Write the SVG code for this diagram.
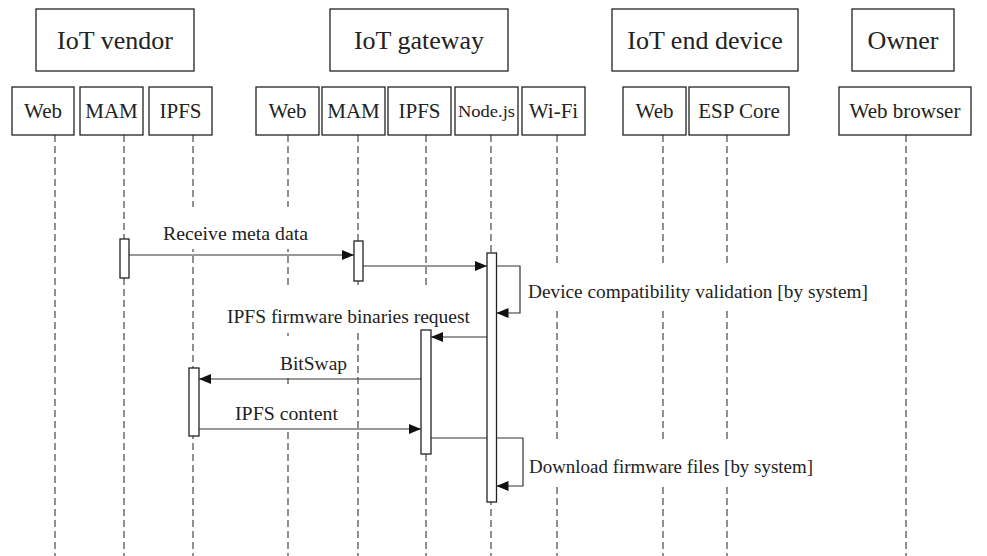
<svg xmlns="http://www.w3.org/2000/svg" width="987" height="556" viewBox="0 0 987 556">
<defs>
<style>
.box{fill:#fff;stroke:#222;stroke-width:1.3}
.life{stroke:#555;stroke-width:1.3;stroke-dasharray:7 4;fill:none}
.act{fill:#fff;stroke:#222;stroke-width:1.3}
.msg{stroke:#333;stroke-width:1.2;fill:none}
.bg{fill:#fff;stroke:none}
text{font-family:"Liberation Serif","DejaVu Serif",serif;fill:#222}
.h{font-size:26px;text-anchor:middle}
.s{font-size:21px;text-anchor:middle}
.l{font-size:19.5px}
</style>
<marker id="ah" viewBox="0 0 12 10" refX="12" refY="5" markerWidth="12" markerHeight="10" markerUnits="userSpaceOnUse" orient="auto">
<path d="M0,0 L12,5 L0,10 z" fill="#111"/>
</marker>
</defs>
<rect width="987" height="556" fill="#fff"/>

<g id="lifelines">
<line class="life" x1="55" y1="135" x2="55" y2="556"/>
<line class="life" x1="124" y1="135" x2="124" y2="556"/>
<line class="life" x1="193" y1="135" x2="193" y2="556"/>
<line class="life" x1="288" y1="135" x2="288" y2="556"/>
<line class="life" x1="358" y1="135" x2="358" y2="556"/>
<line class="life" x1="426" y1="135" x2="426" y2="556"/>
<line class="life" x1="491" y1="135" x2="491" y2="556"/>
<line class="life" x1="557" y1="135" x2="557" y2="556"/>
<line class="life" x1="663" y1="135" x2="663" y2="556"/>
<line class="life" x1="727" y1="135" x2="727" y2="556"/>
<line class="life" x1="906" y1="135" x2="906" y2="556"/>
</g>

<g id="label-backgrounds">
<rect class="bg" x="150" y="207" width="170" height="42"/>
<rect class="bg" x="215" y="289" width="265" height="40"/>
<rect class="bg" x="270" y="336" width="80" height="42"/>
<rect class="bg" x="225" y="387" width="120" height="41"/>
<rect class="bg" x="522" y="263" width="355" height="45"/>
<rect class="bg" x="526" y="439" width="295" height="46"/>
</g>

<g id="iot-vendor">
<rect class="box" x="36" y="9" width="158" height="62"/>
<text class="h" x="115" y="49">IoT vendor</text>
</g>
<g id="vendor-web">
<rect class="box" x="12" y="87" width="62" height="48"/>
<text class="s" x="43" y="118">Web</text>
</g>
<g id="vendor-mam">
<rect class="box" x="80" y="87" width="63" height="48"/>
<text class="s" x="111.5" y="118">MAM</text>
<rect class="act" x="120" y="239" width="9" height="39"/>
</g>
<g id="vendor-ipfs">
<rect class="box" x="149" y="87" width="63" height="48"/>
<text class="s" x="180.5" y="118">IPFS</text>
<rect class="act" x="189" y="368" width="10" height="68"/>
</g>

<g id="iot-gateway">
<rect class="box" x="330" y="9" width="178" height="62"/>
<text class="h" x="419" y="49">IoT gateway</text>
</g>
<g id="gateway-web">
<rect class="box" x="256" y="87" width="63" height="48"/>
<text class="s" x="287.5" y="118">Web</text>
</g>
<g id="gateway-mam">
<rect class="box" x="322" y="87" width="63" height="48"/>
<text class="s" x="353.5" y="118">MAM</text>
<rect class="act" x="354" y="241" width="9" height="40"/>
</g>
<g id="gateway-ipfs">
<rect class="box" x="388" y="87" width="63" height="48"/>
<text class="s" x="419.5" y="118">IPFS</text>
<rect class="act" x="421" y="330" width="10" height="124"/>
</g>
<g id="gateway-nodejs">
<rect class="box" x="455" y="87" width="63" height="48"/>
<text class="s" x="486.5" y="117" style="font-size:17px" textLength="57" lengthAdjust="spacingAndGlyphs">Node.js</text>
<rect class="act" x="487" y="253" width="9.5" height="249"/>
</g>
<g id="gateway-wifi">
<rect class="box" x="522" y="87" width="63" height="48"/>
<text class="s" x="553.5" y="118">Wi-Fi</text>
</g>

<g id="iot-end-device">
<rect class="box" x="612" y="9" width="186" height="62"/>
<text class="h" x="705" y="49">IoT end device</text>
</g>
<g id="device-web">
<rect class="box" x="623" y="87" width="63" height="48"/>
<text class="s" x="654.5" y="118">Web</text>
</g>
<g id="device-esp-core">
<rect class="box" x="689" y="87" width="100" height="48"/>
<text class="s" x="739" y="118">ESP Core</text>
</g>

<g id="owner">
<rect class="box" x="852" y="9" width="102" height="62"/>
<text class="h" x="903" y="49">Owner</text>
</g>
<g id="owner-web-browser">
<rect class="box" x="839" y="87" width="132" height="48"/>
<text class="s" x="905" y="118">Web browser</text>
</g>

<g id="connectors">
<line class="msg" x1="129" y1="255" x2="354" y2="255" marker-end="url(#ah)"/>
<line class="msg" x1="363" y1="266" x2="487" y2="266" marker-end="url(#ah)"/>
<polyline class="msg" points="496.5,266 520,266 520,313 496.5,313" marker-end="url(#ah)"/>
<line class="msg" x1="487" y1="337" x2="431" y2="337" marker-end="url(#ah)"/>
<line class="msg" x1="421" y1="379" x2="199" y2="379" marker-end="url(#ah)"/>
<line class="msg" x1="199" y1="429" x2="421" y2="429" marker-end="url(#ah)"/>
<line class="msg" x1="431" y1="438" x2="487" y2="438"/>
<polyline class="msg" points="496.5,438 523,438 523,486 496.5,486" marker-end="url(#ah)"/>
</g>

<g id="labels">
<text class="l" x="163" y="240" textLength="145" lengthAdjust="spacingAndGlyphs">Receive meta data</text>
<text class="l" x="227" y="323" textLength="243" lengthAdjust="spacingAndGlyphs">IPFS firmware binaries request</text>
<text class="l" x="280" y="370" textLength="67" lengthAdjust="spacingAndGlyphs">BitSwap</text>
<text class="l" x="235" y="420" textLength="103" lengthAdjust="spacingAndGlyphs">IPFS content</text>
<text class="l" x="528" y="298" textLength="340" lengthAdjust="spacingAndGlyphs">Device compatibility validation [by system]</text>
<text class="l" x="529" y="473" textLength="284" lengthAdjust="spacingAndGlyphs">Download firmware files [by system]</text>
</g>
</svg>
